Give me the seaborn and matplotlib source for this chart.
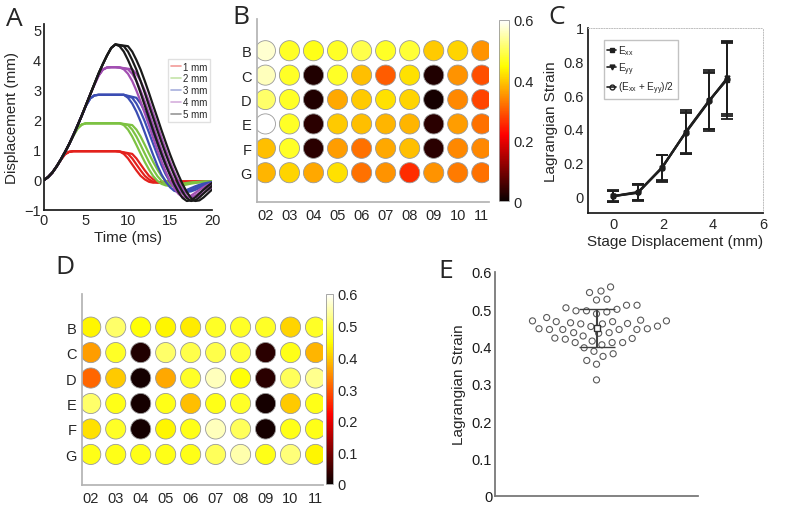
# Multi-panel strain figure: stage traces, plate strain maps, strain vs displacement
import numpy as np
import pandas as pd
import seaborn as sns
import matplotlib.pyplot as plt
from matplotlib.colors import Normalize
from matplotlib.cm import ScalarMappable
from matplotlib.lines import Line2D
from matplotlib.ticker import FuncFormatter

# ---- Panel A: displacement traces, read every 0.5 ms ----
time_ms = np.arange(0, 20.5, 0.5)
disp_1mm = [0, 0.1, 0.25, 0.45, 0.67, 0.86, 0.94, 0.96, 0.96, 0.96, 0.96, 0.96, 0.96, 0.96,
            0.96, 0.96, 0.96, 0.96, 0.95, 0.87, 0.72, 0.52, 0.32, 0.14, 0.02, -0.06, -0.09,
            -0.08, -0.06, -0.05, -0.05, -0.05, -0.05, -0.05, -0.05, -0.05, -0.05, -0.05,
            -0.05, -0.05, -0.05]
disp_2mm = [0, 0.1, 0.25, 0.45, 0.68, 0.93, 1.2, 1.48, 1.72, 1.85, 1.89, 1.89, 1.89, 1.89,
            1.89, 1.89, 1.89, 1.89, 1.89, 1.83, 1.68, 1.45, 1.17, 0.88, 0.6, 0.35, 0.13,
            -0.03, -0.13, -0.18, -0.2, -0.18, -0.15, -0.12, -0.1, -0.08, -0.07, -0.06,
            -0.05, -0.05, -0.05]
disp_3mm = [0, 0.1, 0.25, 0.45, 0.68, 0.93, 1.2, 1.5, 1.82, 2.15, 2.48, 2.72, 2.82, 2.84,
            2.84, 2.84, 2.84, 2.84, 2.84, 2.84, 2.74, 2.55, 2.28, 1.95, 1.58, 1.2, 0.83,
            0.48, 0.18, -0.06, -0.24, -0.36, -0.4, -0.38, -0.33, -0.27, -0.21, -0.16,
            -0.12, -0.09, -0.07]
disp_4mm = [0, 0.1, 0.25, 0.45, 0.68, 0.93, 1.2, 1.5, 1.82, 2.15, 2.5, 2.85, 3.18, 3.48,
            3.68, 3.75, 3.76, 3.76, 3.75, 3.69, 3.54, 3.3, 2.98, 2.62, 2.22, 1.82, 1.4,
            1.0, 0.62, 0.27, -0.03, -0.28, -0.46, -0.57, -0.58, -0.52, -0.43, -0.33,
            -0.24, -0.16, -0.1]
disp_5mm = [0, 0.1, 0.25, 0.45, 0.68, 0.93, 1.2, 1.5, 1.82, 2.15, 2.5, 2.85, 3.2, 3.55,
            3.86, 4.15, 4.4, 4.52, 4.46, 4.28, 4.0, 3.68, 3.3, 2.9, 2.48, 2.07, 1.65,
            1.25, 0.86, 0.5, 0.17, -0.14, -0.4, -0.6, -0.7, -0.68, -0.58, -0.45, -0.32,
            -0.2, -0.1]
amp_labels = ['1 mm', '2 mm', '3 mm', '4 mm', '5 mm']
amp_colors = ['#e3211c', '#7dc242', '#3b4db3', '#a24fb2', '#1a1a1a']
hold_end_ms = [9.0, 9.0, 9.5, 9.0, 8.5]
rep_lag_ms = [0, 0.5, 1.0]

# ---- Panels B and D: plate strain maps (rows B-G, columns 02-11) ----
row_labels = ['B', 'C', 'D', 'E', 'F', 'G']
col_labels = ['02', '03', '04', '05', '06', '07', '08', '09', '10', '11']
strain_B = [
    [0.57, 0.47, 0.46, 0.47, 0.49, 0.47, 0.48, 0.40, 0.41, 0.35],
    [0.56, 0.47, 0.02, 0.47, 0.39, 0.30, 0.42, 0.02, 0.35, 0.29],
    [0.51, 0.47, 0.02, 0.37, 0.40, 0.42, 0.41, 0.01, 0.34, 0.28],
    [0.60, 0.47, 0.03, 0.40, 0.39, 0.38, 0.38, 0.03, 0.36, 0.32],
    [0.39, 0.47, 0.03, 0.36, 0.32, 0.37, 0.39, 0.03, 0.34, 0.34],
    [0.38, 0.41, 0.37, 0.42, 0.32, 0.35, 0.26, 0.35, 0.33, 0.32],
]
strain_D = [
    [0.44, 0.51, 0.45, 0.44, 0.43, 0.47, 0.47, 0.47, 0.41, 0.47],
    [0.36, 0.47, 0.02, 0.51, 0.49, 0.49, 0.48, 0.03, 0.46, 0.38],
    [0.31, 0.40, 0.01, 0.37, 0.47, 0.56, 0.45, 0.03, 0.50, 0.53],
    [0.51, 0.46, 0.01, 0.46, 0.39, 0.46, 0.47, 0.01, 0.40, 0.46],
    [0.42, 0.47, 0.01, 0.44, 0.46, 0.56, 0.50, 0.01, 0.46, 0.46],
    [0.46, 0.46, 0.46, 0.46, 0.46, 0.50, 0.55, 0.46, 0.52, 0.44],
]

# ---- Panel C: strain vs stage displacement ----
stage_mm = [0, 1, 1.95, 2.9, 3.85, 4.55]
exx = [0.0, 0.025, 0.165, 0.38, 0.57, 0.69]
exx_err = [0.03, 0.045, 0.08, 0.13, 0.18, 0.23]
eyy = [0.0, 0.02, 0.17, 0.375, 0.565, 0.70]
eyy_err = [0.035, 0.05, 0.075, 0.12, 0.165, 0.21]
eavg = [0.0, 0.022, 0.168, 0.378, 0.568, 0.695]
eavg_err = [0.032, 0.047, 0.077, 0.125, 0.17, 0.22]

# ---- Panel E: well strains ----
strain_E = [0.56, 0.549, 0.545, 0.527, 0.525, 0.511, 0.511, 0.496, 0.5, 0.493, 0.504,
            0.496, 0.488, 0.478, 0.464, 0.454, 0.461, 0.448, 0.462, 0.455, 0.469, 0.471,
            0.469, 0.461, 0.446, 0.467, 0.448, 0.467, 0.4375, 0.422, 0.446, 0.4375, 0.446,
            0.4286, 0.446, 0.436, 0.423, 0.411, 0.415, 0.42, 0.411, 0.411, 0.405, 0.3875,
            0.381, 0.397, 0.374, 0.363, 0.353, 0.311]
mean_E = 0.45
sd_E = 0.05

sns.set_theme(style='white')
plt.rcParams['font.family'] = ['Liberation Sans', 'DejaVu Sans']
plt.rcParams['mathtext.fontset'] = 'custom'
plt.rcParams['mathtext.rm'] = 'Liberation Sans'
plt.rcParams['mathtext.it'] = 'Liberation Sans'

fig = plt.figure(figsize=(7.87, 5.06), dpi=100)
W, H = 787, 506


def place(left, top, right, bottom):
    return fig.add_axes([left / W, 1 - bottom / H, (right - left) / W, (bottom - top) / H])


axA = place(44, 25, 212, 211)
axB = place(257, 20, 489, 203)
caxB = place(499, 21, 509, 202)
axC = place(588, 29, 763, 214)
axD = place(82, 295, 323, 486)
caxD = place(326, 295, 333, 485)
axE = place(495, 273, 698, 497)

tick_fs = 10.5

# ---- A ----
rows = []
for label, disp, hold in zip(amp_labels, [disp_1mm, disp_2mm, disp_3mm, disp_4mm, disp_5mm], hold_end_ms):
    for r, lag in enumerate(rep_lag_ms):
        t = np.where(time_ms > hold, time_ms + lag, time_ms)
        for ti, di in zip(t, disp):
            rows.append({'time': ti, 'disp': di, 'amp': label, 'rep': r})
traces = pd.DataFrame(rows)
sns.lineplot(data=traces, x='time', y='disp', hue='amp', units='rep', estimator=None,
             palette=amp_colors, linewidth=1.6, sort=False, ax=axA)
axA.set_xlim(0, 20)
axA.set_ylim(-1, 5.2)
axA.set_xticks([0, 5, 10, 15, 20])
axA.set_yticks([-1, 0, 1, 2, 3, 4, 5])
axA.set_xlabel('Time (ms)', fontsize=11, labelpad=2)
axA.set_ylabel('Displacement (mm)', fontsize=11, labelpad=4)
handles, labels = axA.get_legend_handles_labels()
leg = axA.legend(handles, labels, loc='upper left', bbox_to_anchor=(0.71, 0.84), fontsize=7,
                 handlelength=1.0, handletextpad=0.2, borderpad=0.3, labelspacing=0.2,
                 frameon=True, fancybox=False, edgecolor='0.85')
for h in leg.get_lines():
    h.set_alpha(0.45)
    h.set_linewidth(1.2)
for s in ['top', 'right']:
    axA.spines[s].set_visible(False)
for s in ['left', 'bottom']:
    axA.spines[s].set_color('0.1')
axA.tick_params(labelsize=tick_fs, length=2, direction='in', pad=2)

# ---- B and D ----
norm = Normalize(0, 0.6)


def plate(ax, cax, strain, cticks):
    cells = pd.DataFrame([{'row': i, 'col': j, 'strain': strain[i][j]}
                          for i in range(len(row_labels)) for j in range(len(col_labels))])
    sns.scatterplot(data=cells, x='col', y='row', hue='strain', palette='hot', hue_norm=(0, 0.6),
                    s=210, edgecolor='0.6', linewidth=0.6, legend=False, ax=ax)
    ax.set_xlim(-0.35, 9.3)
    ax.set_ylim(6.2, -1.3)
    ax.set_xticks(range(len(col_labels)), col_labels)
    ax.set_yticks(range(len(row_labels)), row_labels)
    ax.set_xlabel('')
    ax.set_ylabel('')
    for s in ['top', 'right']:
        ax.spines[s].set_visible(False)
    for s in ['left', 'bottom']:
        ax.spines[s].set_color('0.7')
    ax.tick_params(labelsize=tick_fs, length=0, pad=4)
    cb = fig.colorbar(ScalarMappable(norm=norm, cmap='hot'), cax=cax, ticks=cticks)
    cb.ax.set_yticklabels([f'{v:g}' for v in cticks])
    cb.ax.tick_params(labelsize=tick_fs, length=0, pad=3)
    cb.outline.set_edgecolor('0.6')
    cb.outline.set_linewidth(0.6)


plate(axB, caxB, strain_B, [0, 0.2, 0.4, 0.6])
plate(axD, caxD, strain_D, [0, 0.1, 0.2, 0.3, 0.4, 0.5, 0.6])

# ---- C ----
c_handles = []
for vals, errs, mk, lab in [(exx, exx_err, 's', r'E$_{xx}$'), (eyy, eyy_err, 'v', r'E$_{yy}$'),
                            (eavg, eavg_err, 'o', r'(E$_{xx}$ + E$_{yy}$)/2')]:
    mfc = 'none' if mk == 'o' else '0.12'
    axC.errorbar(stage_mm, vals, yerr=errs, fmt='-', marker=mk, ms=3.5, color='0.12',
                 mfc=mfc, lw=1.6, elinewidth=1.3, capsize=4.5, capthick=1.3)
    c_handles.append(Line2D([], [], color='0.12', marker=mk, ms=3.5, mfc=mfc, lw=1.2, label=lab))
axC.set_xlim(-1, 6)
axC.set_ylim(-0.1, 1)
axC.set_xticks([0, 2, 4, 6])
axC.set_yticks([0, 0.2, 0.4, 0.6, 0.8, 1])
axC.yaxis.set_major_formatter(FuncFormatter(lambda v, p: f'{v:g}'))
axC.set_xlabel('Stage Displacement (mm)', fontsize=11, labelpad=2)
axC.set_ylabel('Lagrangian Strain', fontsize=11, labelpad=4)
for s in ['top', 'right']:
    axC.spines[s].set_linestyle(':')
    axC.spines[s].set_color('0.75')
    axC.spines[s].set_linewidth(0.7)
for s in ['left', 'bottom']:
    axC.spines[s].set_color('0.1')
axC.tick_params(labelsize=tick_fs, length=2, direction='in', pad=3)
axC.legend(handles=c_handles, loc='upper left', bbox_to_anchor=(0.065, 0.96), fontsize=7.2,
           handlelength=0.9, handletextpad=0.2, borderpad=0.3, labelspacing=0.3,
           frameon=True, fancybox=False, edgecolor='0.7')

# ---- E ----
# swarm laid out with a wider spacing than the drawn circle, as in the original spread
sns.swarmplot(y=strain_E, size=6.4, color='white', edgecolor='0.35', linewidth=0.8, ax=axE)
swarm = axE.collections[0]
axE.errorbar([0], [mean_E], yerr=[sd_E], fmt='s', ms=5, mfc='white', mec='0.2', mew=1,
             color='0.25', elinewidth=1.5, capsize=13, capthick=1.5, zorder=5)
axE.set_xlim(-0.5, 0.5)
axE.set_ylim(0, 0.6)
axE.set_xticks([0], [''])
axE.set_yticks([0, 0.1, 0.2, 0.3, 0.4, 0.5, 0.6])
axE.yaxis.set_major_formatter(FuncFormatter(lambda v, p: f'{v:g}'))
axE.set_ylabel('Lagrangian Strain', fontsize=11, labelpad=4)
for s in ['top', 'right']:
    axE.spines[s].set_visible(False)
for s in ['left', 'bottom']:
    axE.spines[s].set_color('0.45')
axE.tick_params(labelsize=tick_fs, length=3, direction='in', pad=2, colors='0.1')
axE.tick_params(axis='x', color='0.3')

# panel letters
for letter, x, y in [('A', 6, 20), ('B', 232, 17), ('C', 548, 18), ('D', 55, 268), ('E', 438, 272)]:
    fig.text(x / W, 1 - y / H, letter, fontsize=19, family='Open Sans', va='center')

fig.canvas.draw()
if 'draw' in vars(swarm):
    del swarm.draw
swarm.set_sizes([4.4 ** 2])
swarm.set_facecolor('none')

fig.savefig('out.png', dpi=100)
